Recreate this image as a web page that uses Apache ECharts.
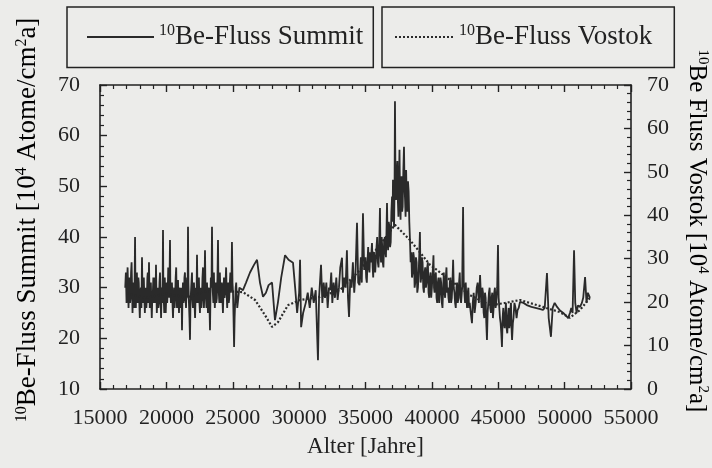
<!DOCTYPE html>
<html>
<head>
<meta charset="utf-8">
<script src="https://cdn.jsdelivr.net/npm/echarts@6/dist/echarts.min.js"></script>
<style>
  html, body { margin: 0; padding: 0; background: #ececea; }
  #chart { width: 712px; height: 468px; }
</style>
</head>
<body>
<div id="chart"></div>
<script>
// Summit 10Be flux (left axis): [age in years, flux]
var summitEarly = [
  [16900, 30], [16950, 33], [17000, 27], [17040, 31], [17080, 34], [17120, 29], [17150, 26], [17190, 30], [17230, 32], [17260, 27],
  [17300, 28], [17340, 33], [17380, 35], [17420, 29], [17450, 25], [17490, 30], [17530, 31], [17570, 26], [17600, 29], [17640, 40],
  [17670, 30], [17700, 26], [17740, 31], [17780, 33], [17820, 27], [17850, 28], [17890, 32], [17920, 31], [17960, 27], [18000, 24],
  [18040, 29], [18080, 30], [18120, 26], [18164, 36], [18200, 29], [18230, 27], [18270, 31], [18300, 32], [18340, 28], [18380, 25],
  [18420, 29], [18450, 30], [18490, 26], [18530, 28], [18570, 32], [18600, 33], [18650, 27], [18691, 35], [18720, 30], [18750, 26],
  [18790, 29], [18830, 31], [18870, 27], [18900, 24], [18940, 28], [18980, 29], [19020, 32], [19060, 27], [19100, 30], [19140, 32],
  [19180, 27], [19218, 34.5], [19250, 29], [19280, 25], [19320, 28], [19360, 30], [19400, 26], [19440, 27], [19480, 31], [19520, 33],
  [19560, 28], [19600, 24], [19640, 29], [19680, 30], [19710, 27], [19746, 41.4], [19770, 31], [19800, 28], [19840, 25], [19880, 32],
  [19910, 29], [19950, 25], [19990, 28], [20030, 31], [20060, 27], [20100, 29], [20140, 34], [20180, 33], [20220, 28], [20273, 39.4],
  [20300, 30], [20340, 27], [20380, 30], [20420, 31], [20460, 27], [20500, 24], [20540, 28], [20580, 30], [20620, 26], [20660, 28],
  [20700, 32], [20740, 34], [20770, 29], [20800, 26], [20840, 29], [20876, 31.5], [20910, 28], [20950, 25], [20990, 29], [21030, 30],
  [21060, 26], [21100, 27], [21140, 30], [21177, 21.6], [21210, 28], [21250, 31], [21290, 27], [21330, 28], [21360, 32], [21400, 33],
  [21440, 28], [21480, 26], [21520, 30], [21560, 32], [21600, 28], [21629, 42], [21660, 31], [21700, 27], [21740, 24], [21780, 19.7],
  [21810, 26], [21850, 29], [21890, 31], [21930, 33], [21960, 28], [22000, 26], [22040, 30], [22080, 31], [22120, 27], [22160, 24],
  [22200, 28], [22230, 30], [22270, 27], [22307, 36.5], [22340, 30], [22380, 27], [22410, 31], [22450, 32], [22490, 27], [22530, 25],
  [22560, 29], [22600, 30], [22640, 26], [22680, 28], [22720, 32], [22760, 34], [22800, 28], [22830, 26], [22870, 30], [22910, 37.4],
  [22940, 31], [22980, 28], [23020, 26], [23060, 31], [23100, 28], [23130, 25], [23170, 28], [23210, 30], [23250, 26], [23286, 21.6],
  [23320, 28], [23350, 32], [23400, 30], [23437, 42], [23470, 31], [23500, 29], [23540, 27], [23580, 33], [23610, 29], [23650, 26],
  [23690, 29], [23730, 31], [23760, 27], [23800, 28], [23850, 32], [23889, 39.4], [23920, 31], [23950, 29], [23990, 27], [24030, 33],
  [24060, 30], [24100, 27], [24140, 29], [24180, 31], [24220, 28], [24260, 25], [24300, 29], [24340, 32], [24380, 28], [24420, 29],
  [24460, 31], [24500, 34], [24540, 29], [24580, 26], [24620, 29], [24660, 31], [24700, 27], [24740, 28], [24780, 31], [24820, 33],
  [24860, 29], [24900, 30], [24940, 39], [24980, 31], [25020, 29], [25060, 24], [25100, 18.3], [25140, 24], [25180, 27], [25220, 30],
  [25260, 31], [25300, 28], [25340, 26]
];
var summitGap = [
  [25500, 30], [25770, 29.5], [26000, 31], [26300, 33], [26600, 34.5], [26830, 35.5], [27050, 31], [27280, 28.2], [27500, 29], [27700, 30.5],
  [27960, 31], [28180, 23.6], [28400, 27], [28650, 32], [28940, 36.4], [29200, 35.5], [29540, 34.9], [29700, 30], [29850, 25], [30000, 29],
  [30070, 35.5], [30150, 22.2], [30300, 25], [30500, 27], [30650, 29], [30800, 26], [30950, 30], [31100, 27], [31250, 29.5], [31420, 15.7],
  [31500, 28], [31650, 34.5], [31750, 27], [31850, 31]
];
var summitPeak = [
  [31950, 28], [32050, 31], [32150, 26], [32250, 30], [32330, 29.5], [32420, 33], [32500, 27], [32600, 31], [32700, 28], [32800, 32],
  [32900, 27.6], [33000, 30], [33100, 34], [33230, 35.9], [33300, 29], [33400, 32], [33500, 30], [33600, 37.4], [33680, 28], [33760, 24.2],
  [33850, 31.5], [33950, 30], [34050, 35], [34150, 29], [34250, 33], [34360, 42.8], [34450, 31], [34550, 30.5], [34650, 36], [34720, 31],
  [34810, 44.7], [34900, 33.5], [35000, 36], [35050, 32], [35100, 31], [35150, 35], [35200, 38], [35250, 34], [35300, 33], [35350, 37],
  [35400, 35], [35490, 38.8], [35540, 34], [35580, 32], [35630, 37], [35680, 36], [35730, 33], [35780, 33], [35830, 38], [35880, 40],
  [35930, 35], [35980, 34], [36040, 39], [36090, 45.7], [36130, 37], [36170, 35], [36220, 40], [36260, 38], [36300, 35], [36350, 34],
  [36400, 39], [36450, 40], [36500, 37], [36540, 36], [36580, 41], [36620, 46.7], [36660, 40], [36700, 37.4], [36750, 43], [36800, 42],
  [36850, 38], [36900, 39], [36950, 45], [37000, 48], [37040, 43], [37070, 51.3], [37110, 45], [37150, 42], [37190, 50], [37220, 66.8],
  [37260, 50], [37300, 47.3], [37350, 52], [37400, 55], [37440, 47], [37480, 44], [37520, 50], [37560, 57.2], [37600, 48], [37640, 43.4],
  [37680, 49], [37720, 52], [37760, 45], [37800, 46], [37850, 53], [37900, 57.8], [37940, 50], [37980, 47.3], [38020, 44], [38060, 53.2],
  [38100, 48], [38150, 45], [38200, 51], [38250, 49], [38300, 43], [38350, 39.4]
];
var summitLate = [
  [38400, 35], [38450, 37], [38500, 32], [38550, 33], [38600, 37], [38650, 36], [38700, 30], [38750, 31], [38800, 36], [38850, 35],
  [38900, 29], [38950, 30], [39020, 34], [39100, 41], [39150, 31], [39200, 32], [39250, 36], [39300, 35], [39350, 30], [39400, 29],
  [39450, 33], [39500, 34], [39550, 30], [39600, 31], [39650, 34], [39700, 35], [39750, 29], [39800, 28], [39850, 32], [39900, 33],
  [39950, 28], [40000, 30], [40060, 33], [40120, 36.4], [40160, 30], [40200, 29], [40250, 32], [40300, 33], [40350, 28], [40400, 27],
  [40450, 31], [40500, 32], [40550, 27], [40600, 29], [40650, 32], [40700, 31], [40750, 27], [40800, 26], [40850, 30], [40900, 33],
  [40950, 29], [41000, 28], [41050, 32], [41100, 34], [41150, 29], [41200, 30], [41250, 28], [41300, 27], [41350, 31], [41400, 32],
  [41450, 27], [41500, 28], [41550, 31], [41600, 35.5], [41650, 30], [41700, 29], [41750, 27], [41800, 26], [41850, 30], [41900, 31],
  [41950, 27], [42000, 28], [42050, 31], [42100, 33], [42150, 28], [42200, 27], [42280, 30], [42350, 45.9], [42400, 31], [42450, 29],
  [42500, 27], [42550, 31], [42600, 28], [42650, 26], [42700, 29], [42750, 30], [42800, 26], [42850, 27], [42930, 25], [43020, 23],
  [43080, 27], [43150, 29], [43220, 25], [43300, 27], [43380, 30], [43450, 31], [43540, 27], [43630, 32.5], [43700, 28], [43750, 26],
  [43800, 30], [43850, 29], [43900, 25], [43950, 24], [44000, 29], [44050, 28], [44100, 23], [44150, 19.7], [44200, 25], [44250, 27],
  [44300, 29], [44350, 30], [44400, 26], [44450, 25], [44500, 28], [44550, 29], [44600, 24], [44650, 26], [44700, 29], [44750, 30],
  [44800, 26], [44850, 27], [44920, 30], [44980, 38.4], [45030, 28], [45080, 26], [45130, 24], [45180, 23], [45230, 21], [45280, 18.3],
  [45330, 24], [45380, 26], [45430, 23], [45480, 22], [45530, 25], [45580, 27], [45630, 22], [45680, 21], [45730, 24], [45780, 26],
  [45830, 22], [45880, 23], [45920, 26], [45960, 27], [46000, 22], [46040, 19.7], [46100, 23], [46150, 24], [46220, 27], [46300, 26],
  [46380, 24], [46450, 25.5], [46540, 26], [46640, 27.2]
];
var summitTail = [
  [46900, 27], [47200, 26.5], [47500, 26.2], [47800, 26], [48100, 25.8], [48370, 25.6], [48500, 26], [48670, 32.9], [48800, 24], [48970, 20.3],
  [49100, 26], [49250, 27], [49430, 26.2], [49650, 25.5], [49900, 25], [50100, 24.5], [50260, 24], [50400, 25], [50500, 26], [50600, 25],
  [50710, 37.4], [50800, 27], [50900, 25], [51000, 26.5], [51160, 26.2], [51300, 27], [51400, 28], [51540, 32.1], [51650, 27], [51750, 29],
  [51910, 28]
];

// Vostok 10Be flux (right axis)
var vostokAge = [17000, 18500, 20000, 21500, 23000, 24500, 25770, 26680, 27430, 27960, 28410, 29160, 30070, 31570, 33080, 34590, 36090, 37220, 38350, 39860, 41370, 42870, 44380, 45510, 46640, 48370, 49640, 50400, 51160, 51910];
var vostokFlux = [22, 21, 22, 21, 22.5, 22.5, 22.3, 20.5, 17, 14.3, 15.4, 19.3, 20.5, 21.2, 22.8, 27.4, 33.2, 37.8, 34.3, 28.6, 25.1, 21.6, 19.3, 19.8, 20.5, 18.9, 17.7, 16.4, 18.2, 21];

var legendNames = ['Be-Fluss Summit', 'Be-Fluss Vostok'];
var leftTitle = '{sup|10}{n|Be-Fluss Summit [10}{sup|4}{n| Atome/cm}{sup|2}{n|a]}';
var rightTitle = '{sup|10}{n|Be Fluss Vostok [10}{sup|4}{n| Atome/cm}{sup|2}{n|a]}';

function pairs(xs, ys) {
    var out = [];
    for (var i = 0; i < xs.length; i++) {
        out.push([xs[i], ys[i]]);
    }
    return out;
}

var ink = '#222';
var serif = 'Liberation Serif';
var richBig = {
    sup: {fontFamily: serif, fontSize: 16, color: ink, padding: [0, 0, 12, 0]},
    n: {fontFamily: serif, fontSize: 27, color: ink}
};
var richMid = {
    sup: {fontFamily: serif, fontSize: 15, color: ink, padding: [0, 0, 11, 0]},
    n: {fontFamily: serif, fontSize: 25, color: ink}
};

function plain(v) {
    return String(v);
}

function axisBase(pos) {
    return {
        position: pos,
        axisLine: {show: true, lineStyle: {color: ink, width: 1.6}},
        axisTick: {show: true, inside: true, length: 7, lineStyle: {color: ink, width: 1.4}},
        minorTick: {show: true, splitNumber: 5, length: 4, lineStyle: {color: ink, width: 1.2}},
        splitLine: {show: false},
        axisLabel: {fontFamily: serif, fontSize: 22, color: ink, formatter: plain}
    };
}

var xBottom = axisBase('bottom');
xBottom.type = 'value';
xBottom.min = 15000;
xBottom.max = 55000;
xBottom.interval = 5000;
xBottom.axisLabel.margin = 18;
xBottom.name = 'Alter [Jahre]';
xBottom.nameLocation = 'middle';
xBottom.nameGap = 46;
xBottom.nameTextStyle = {fontFamily: serif, fontSize: 23, color: ink};

var xTop = axisBase('top');
xTop.type = 'value';
xTop.min = 15000;
xTop.max = 55000;
xTop.interval = 5000;
xTop.axisLabel = {show: false};

var yLeft = axisBase('left');
yLeft.type = 'value';
yLeft.min = 10;
yLeft.max = 70;
yLeft.interval = 10;
yLeft.axisLabel.margin = 20;

var yRight = axisBase('right');
yRight.type = 'value';
yRight.min = 0;
yRight.max = 70;
yRight.interval = 10;
yRight.axisLabel.margin = 16;

function legendBox(left, name, pad, iconWidth) {
    return {
        left: left,
        top: 7,
        data: [name],
        orient: 'horizontal',
        borderColor: ink,
        borderWidth: 1.5,
        padding: pad,
        itemWidth: iconWidth,
        itemHeight: 14,
        itemStyle: {opacity: 0},
        formatter: function (n) {
            return '{sup|10}{n|' + n + '}';
        },
        textStyle: {rich: richBig}
    };
}

var summitData = summitEarly.concat(summitGap, summitPeak, summitLate, summitTail);

var chart = echarts.init(document.getElementById('chart'), null, {renderer: 'canvas'});
chart.setOption({
    backgroundColor: '#ececea',
    animation: false,
    grid: {left: 100, right: 81, top: 85, bottom: 79, outerBoundsMode: 'none'},
    legend: [
        legendBox(67, legendNames[0], [16, 10, 17, 19], 67),
        legendBox(382, legendNames[1], [16, 22, 17, 12], 59)
    ],
    graphic: [
        {
            type: 'text',
            x: 28,
            y: 220,
            rotation: Math.PI / 2,
            style: {text: leftTitle, rich: richBig, align: 'center', verticalAlign: 'middle'}
        },
        {
            type: 'text',
            x: 697,
            y: 231,
            rotation: -Math.PI / 2,
            style: {text: rightTitle, rich: richMid, align: 'center', verticalAlign: 'middle'}
        }
    ],
    xAxis: [xBottom, xTop],
    yAxis: [yLeft, yRight],
    series: [
        {
            name: legendNames[0],
            type: 'line',
            xAxisIndex: 0,
            yAxisIndex: 0,
            showSymbol: false,
            symbol: 'none',
            data: summitData,
            lineStyle: {color: '#2a2a2a', width: 1.8},
            itemStyle: {color: '#2a2a2a'}
        },
        {
            name: legendNames[1],
            type: 'line',
            xAxisIndex: 0,
            yAxisIndex: 1,
            showSymbol: false,
            symbol: 'none',
            data: pairs(vostokAge, vostokFlux),
            lineStyle: {color: '#2a2a2a', width: 2.2, type: [2, 2]},
            itemStyle: {color: '#2a2a2a'}
        }
    ]
});
</script>
</body>
</html>
